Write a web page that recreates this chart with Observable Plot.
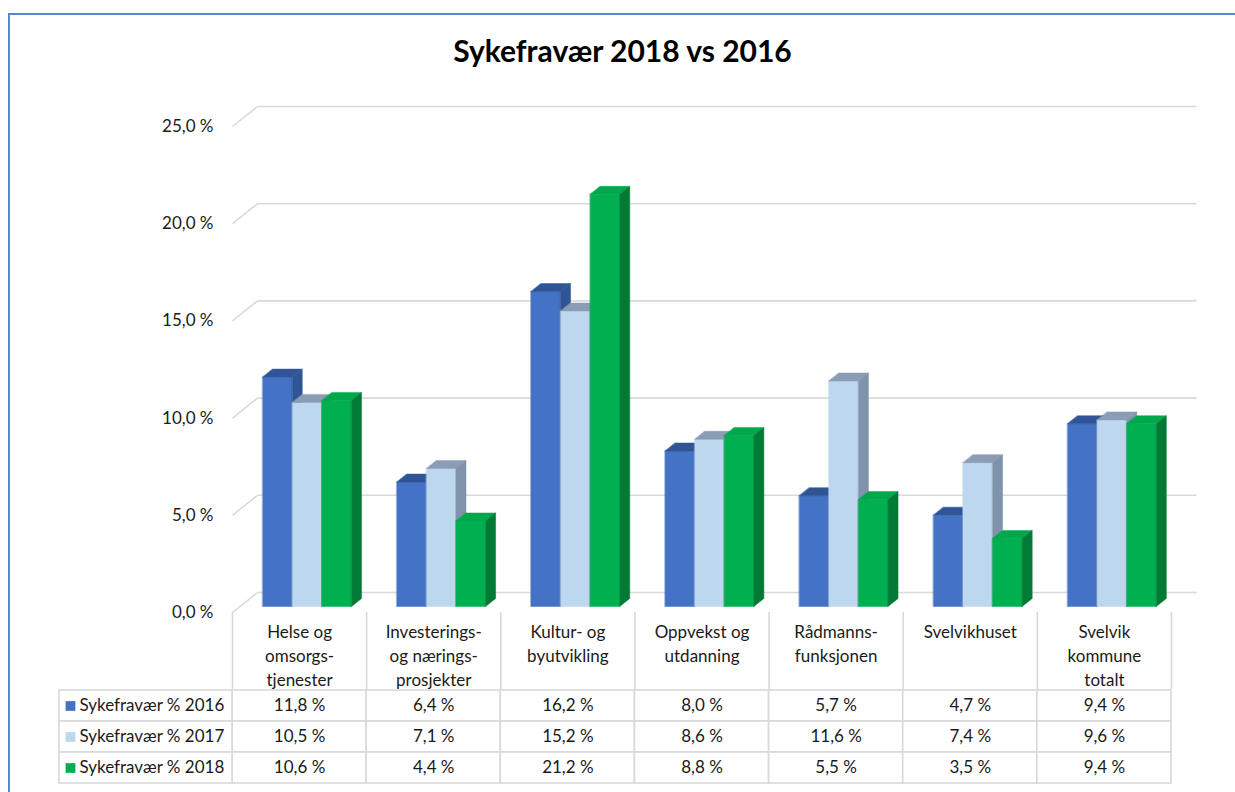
<!DOCTYPE html>
<html>
<head>
<meta charset="utf-8">
<script src="https://cdn.jsdelivr.net/npm/d3@7"></script>
<script src="https://cdn.jsdelivr.net/npm/@observablehq/plot@0.6"></script>
<style>
  html, body { margin: 0; padding: 0; background: #fff; }
  #page { position: relative; width: 1235px; height: 792px; overflow: hidden; font-family: Lato, "Open Sans", sans-serif; }
  #frame { position: absolute; left: 8px; top: 13px; width: 1300px; height: 900px; border-left: 2px solid #5b87c9; border-top: 2px solid #5b87c9; }
  #title { position: absolute; left: 0; width: 1245px; top: 32px; text-align: center; font-size: 30px; font-weight: bold; color: #000; }
  .abs { position: absolute; left: 0; }
</style>
</head>
<body>
<div id="page">
  <div id="frame"></div>
  <div id="title">Sykefravær 2018 vs 2016</div>
  <div id="main" class="abs" style="top:0px"></div>
  <div id="body" class="abs" style="top:688px"></div>
  <div id="head" class="abs" style="top:612px"></div>
</div>
<script>
// ---------- data ----------
const categories = [
  "Helse og\nomsorgs-\ntjenester",
  "Investerings-\nog nærings-\nprosjekter",
  "Kultur- og\nbyutvikling",
  "Oppvekst og\nutdanning",
  "Rådmanns-\nfunksjonen",
  "Svelvikhuset",
  "Svelvik\nkommune\ntotalt"
];
const seriesNames = ["Sykefravær % 2016", "Sykefravær % 2017", "Sykefravær % 2018"];
const values2016 = [11.8, 6.4, 16.2, 8.0, 5.7, 4.7, 9.4];
const values2017 = [10.5, 7.1, 15.2, 8.6, 11.6, 7.4, 9.6];
const values2018 = [10.6, 4.4, 21.2, 8.8, 5.5, 3.5, 9.4];
const yTicks = [0, 5, 10, 15, 20, 25];

// ---------- styles ----------
const frontColors = ["#4472C4", "#BDD7EE", "#00B050"];
const topColors   = ["#2F5597", "#8A9DB5", "#00A84C"];
const sideColors  = ["#2F5597", "#7F93AB", "#007A35"];
const gridColor = "#d9d9d9";
const textColor = "#1a1a1a";
const fontFamily = "Lato, 'Open Sans', sans-serif";
const fs = 17;

// ---------- layout (pixels) ----------
const W = 1235;
const plotLeft = 232, plotRight = 1171;
const colPx = (plotRight - plotLeft) / categories.length;
const pxPerPct = 486 / 25;
// 3D offsets in pixels, converted to data units
const wallDx = 25 / colPx, wallDy = 20 / pxPerPct;     // back wall
const barOx = 7.5 / colPx, barOy = 6 / pxPerPct;       // bar plane
const depthDx = 10 / colPx, depthDy = 8 / pxPerPct;    // bar depth
const barW = 29.6 / colPx;
const legendCol = 173 / colPx;

const allSeries = [values2016, values2017, values2018];
const fmt = v => v.toFixed(1).replace(".", ",") + " %";

// ---------- polygons for 3D bars ----------
const polys = [];
let pid = 0;
categories.forEach((c, i) => {
  allSeries.forEach((vals, j) => {
    const v = vals[i];
    const x0 = i + 0.5 - 1.5 * barW + j * barW + barOx;
    const x1 = x0 + barW;
    const yb = barOy, yt = v + barOy;
    const push = (pts, color) => {
      const id = pid++;
      pts.forEach(([x, y]) => polys.push({id, x, y, color}));
    };
    push([[x0, yb], [x1, yb], [x1, yt], [x0, yt]], frontColors[j]);
    push([[x0, yt], [x1, yt], [x1 + depthDx, yt + depthDy], [x0 + depthDx, yt + depthDy]], topColors[j]);
    push([[x1, yb], [x1 + depthDx, yb + depthDy], [x1 + depthDx, yt + depthDy], [x1, yt]], sideColors[j]);
  });
});

// gridlines
const gridH = yTicks.map(t => ({x1: wallDx, x2: categories.length + wallDx, y: t + wallDy}));
const gridD = yTicks.map(t => ({x1: 0, y1: t, x2: wallDx, y2: t + wallDy}));

const mainPlot = Plot.plot({
  width: W,
  height: 620,
  marginLeft: plotLeft,
  marginRight: W - plotRight,
  marginTop: 126,
  marginBottom: 8,
  style: {fontFamily, fontSize: fs + "px", color: textColor, background: "transparent", overflow: "visible"},
  x: {domain: [0, categories.length], axis: null},
  y: {domain: [0, 25]},
  color: {type: "identity"},
  marks: [
    Plot.link(gridH, {x1: "x1", x2: "x2", y1: "y", y2: "y", stroke: gridColor, strokeWidth: 1.6}),
    Plot.link(gridD, {x1: "x1", y1: "y1", x2: "x2", y2: "y2", stroke: gridColor, strokeWidth: 1.6}),
    Plot.axisY({ticks: yTicks, tickSize: 0, tickPadding: 19, tickFormat: fmt, fontSize: fs, fill: textColor, label: null}),
    Plot.line(polys, {x: "x", y: "y", z: "id", fill: "color", stroke: "color", strokeWidth: 0.5, curve: "linear-closed"})
  ]
});
document.getElementById("main").appendChild(mainPlot);

// ---------- table header (category labels) ----------
const bounds = d3.range(categories.length + 1);
const headPlot = Plot.plot({
  width: W,
  height: 77,
  marginLeft: plotLeft,
  marginRight: W - plotRight,
  marginTop: 0,
  marginBottom: 0,
  style: {fontFamily, fontSize: fs + "px", color: textColor, background: "transparent", overflow: "visible"},
  x: {domain: [0, categories.length], axis: null},
  marks: [
    Plot.ruleX(bounds, {x: d => d, stroke: gridColor, strokeWidth: 1.6}),
    Plot.text(categories, {x: (d, i) => i + 0.5, frameAnchor: "top", lineAnchor: "top", dy: 8, lineHeight: 24 / fs, fontSize: fs, fill: textColor, text: d => d})
  ]
});
document.getElementById("head").appendChild(headPlot);

// ---------- table body ----------
const cells = [];
seriesNames.forEach((s, j) => categories.forEach((c, i) => cells.push({s, i, v: allSeries[j][i]})));
const legendRows = seriesNames.map((s, j) => ({s, color: frontColors[j]}));

const bodyPlot = Plot.plot({
  width: W,
  height: 97,
  marginLeft: plotLeft,
  marginRight: W - plotRight,
  marginTop: 1,
  marginBottom: 2,
  style: {fontFamily, fontSize: fs + "px", color: textColor, background: "transparent", overflow: "visible"},
  x: {domain: [0, categories.length], axis: null},
  y: {domain: seriesNames, axis: null, padding: 0},
  color: {type: "identity"},
  marks: [
    Plot.barX(cells, {x1: d => d.i, x2: d => d.i + 1, y: "s", fill: "white", stroke: gridColor, strokeWidth: 1.6}),
    Plot.barX(legendRows, {x1: -legendCol, x2: 0, y: "s", fill: "white", stroke: gridColor, strokeWidth: 1.6}),
    Plot.dot(legendRows, {x: -legendCol, y: "s", dx: 11, symbol: "square", r: 5.5, fill: "color", stroke: null}),
    Plot.text(legendRows, {x: -legendCol, y: "s", dx: 20, text: "s", textAnchor: "start", fontSize: fs, fill: textColor}),
    Plot.text(cells, {x: d => d.i + 0.5, y: "s", text: d => fmt(d.v), fontSize: fs, fill: textColor})
  ]
});
document.getElementById("body").appendChild(bodyPlot);
</script>
</body>
</html>
